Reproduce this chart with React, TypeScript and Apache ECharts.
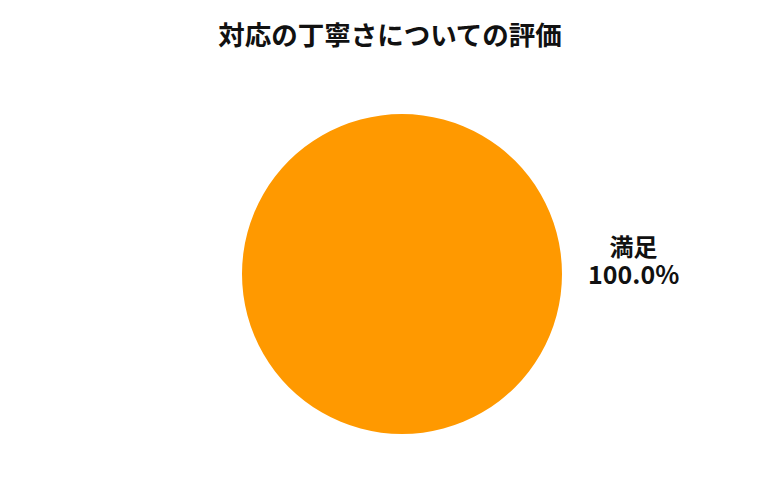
import React, { useEffect, useRef } from "react";
import * as echarts from "echarts";

const title = "対応の丁寧さについての評価";
const categories = ["満足"];
const values = [100];
const colors = ["#FF9900"];

export default function App() {
  const ref = useRef<HTMLDivElement>(null);
  useEffect(() => {
    if (!ref.current) return;
    const chart = echarts.init(ref.current, undefined, { renderer: "svg" });
    const total = values.reduce((a, b) => a + b, 0);
    chart.setOption({
      animation: false,
      backgroundColor: "#ffffff",
      textStyle: { fontFamily: "'Noto Sans CJK JP', 'Noto Sans', sans-serif" },
      title: {
        text: title,
        left: "center",
        top: 15,
        textStyle: {
          fontFamily: "'Noto Sans CJK JP', sans-serif",
          fontSize: 26.5,
          fontWeight: "bold",
          color: "#111111",
        },
      },
      series: [
        {
          type: "pie",
          center: [402, 274],
          radius: 160,
          startAngle: 180,
          clockwise: true,
          silent: true,
          data: categories.map((name, i) => ({
            name,
            value: values[i],
            itemStyle: { color: colors[i % colors.length] },
          })),
          label: {
            show: true,
            position: "outside",
            formatter: (p: any) =>
              `{a|${p.name}}\n{b|${((p.value / total) * 100).toFixed(1)}%}`,
            rich: {
              a: {
                fontFamily: "'Noto Sans CJK JP', sans-serif",
                fontSize: 24,
                fontWeight: "bold",
                color: "#111111",
                lineHeight: 28,
                align: "center",
              },
              b: {
                fontFamily: "'Noto Sans CJK JP', sans-serif",
                fontSize: 25,
                fontWeight: "bold",
                color: "#111111",
                lineHeight: 28,
                align: "center",
              },
            },
          },
          labelLine: { show: false, length: 15, length2: 6 },
          labelLayout: { dy: -15 },
        },
      ],
    });
    return () => chart.dispose();
  }, []);
  return (
    <div
      ref={ref}
      style={{ position: "fixed", left: 0, top: 0, width: 780, height: 500 }}
    />
  );
}
